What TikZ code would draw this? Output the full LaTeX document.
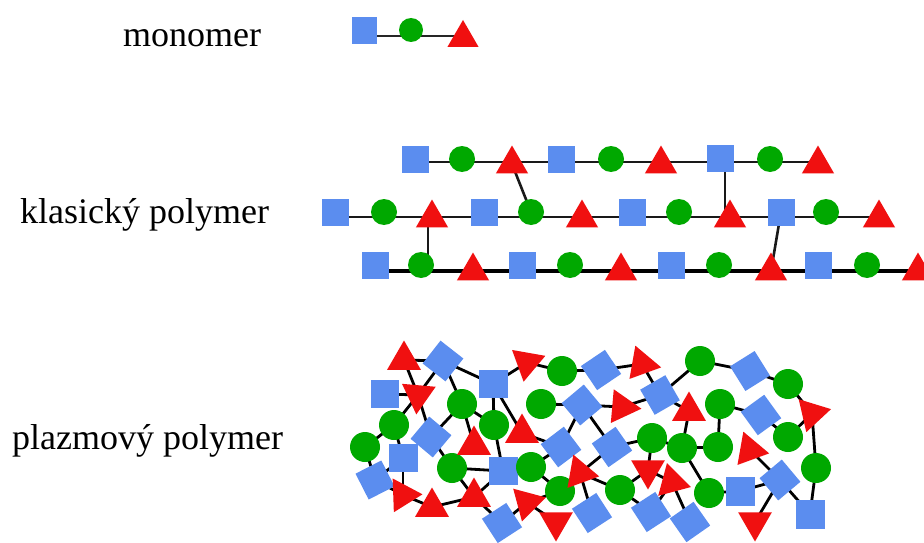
\documentclass[tikz,border=0pt]{standalone}
\usepackage{fontspec}
\setmainfont{Liberation Serif}
\usetikzlibrary{shapes.geometric,backgrounds}
\definecolor{qblue}{RGB}{91,141,239}
\definecolor{qgreen}{RGB}{0,168,0}
\definecolor{qred}{RGB}{240,16,16}
\begin{document}
\begin{tikzpicture}[x=1pt,y=-1pt,
  sqc/.style={rectangle,fill=qblue,minimum size=27pt,inner sep=0pt},
  cic/.style={circle,fill=qgreen,minimum size=26pt,inner sep=0pt},
  trc/.style={regular polygon,regular polygon sides=3,fill=qred,minimum size=37pt,inner sep=0pt},
  sqp/.style={regular polygon,regular polygon sides=4,fill=qblue,minimum size=41pt,inner sep=0pt,rotate=#1},
  sqp/.default=0,
  cip/.style={circle,fill=qgreen,minimum size=30pt,inner sep=0pt},
  trp/.style={regular polygon,regular polygon sides=3,fill=qred,minimum size=39pt,inner sep=0pt,rotate=#1},
  trp/.default=0,
  lab/.style={anchor=base west,inner sep=0pt,font=\fontsize{36pt}{40pt}\selectfont},
  bond/.style={line width=2.6pt,black!90},
  pbond/.style={line width=2.8pt,black}]
\useasboundingbox (0,0) rectangle (924,543);

% labels
\node[lab] (lmono) at (123,47) {monomer};
\node[lab] (lklas) at (20,223) {klasický polymer};
\node[lab] (lplaz) at (12,449) {plazmový polymer};

% monomer
\node[rectangle,fill=qblue,minimum width=25pt,minimum height=27pt,inner sep=0pt] (m1) at (364,31) {};
\node[circle,fill=qgreen,minimum size=24pt,inner sep=0pt] (m2) at (411,30) {};
\node[regular polygon,regular polygon sides=3,fill=qred,minimum size=36pt,inner sep=0pt] (m3) at (463,38) {};
\coordinate (my) at (0,36);

% classic polymer row 1
\node[sqc] (r1a) at (415,159) {};
\node[cic] (r1b) at (462,159) {};
\node[trc] (r1c) at (512,164) {};
\node[sqc] (r1d) at (561,159) {};
\node[cic] (r1e) at (611,159) {};
\node[trc] (r1f) at (661,164) {};
\node[sqc] (r1g) at (720,158) {};
\node[cic] (r1h) at (770,159) {};
\node[trc] (r1i) at (818,164) {};
\coordinate (y1) at (0,162);
% row 2
\node[sqc] (r2a) at (335,212) {};
\node[cic] (r2b) at (384,212) {};
\node[trc] (r2c) at (432,218) {};
\node[sqc] (r2d) at (484,212) {};
\node[cic] (r2e) at (531,212) {};
\node[trc] (r2f) at (582,218) {};
\node[sqc] (r2g) at (632,212) {};
\node[cic] (r2h) at (679,212) {};
\node[trc] (r2i) at (730,218) {};
\node[sqc] (r2j) at (781,212) {};
\node[cic] (r2k) at (826,212) {};
\node[trc] (r2l) at (879,218) {};
\coordinate (y2) at (0,217);
% row 3
\node[sqc] (r3a) at (375,265) {};
\node[cic] (r3b) at (421,265) {};
\node[trc] (r3c) at (473,271) {};
\node[sqc] (r3d) at (522,265) {};
\node[cic] (r3e) at (570,265) {};
\node[trc] (r3f) at (621,271) {};
\node[sqc] (r3g) at (671,265) {};
\node[cic] (r3h) at (719,265) {};
\node[trc] (r3i) at (771,271) {};
\node[sqc] (r3j) at (818,265) {};
\node[cic] (r3k) at (867,265) {};
\node[trc] (r3l) at (918,271) {};
\coordinate (y3) at (0,271);
\coordinate (r3end) at (930,271);

% plasma polymer: squares
\node[sqp=-38] (S1) at (443,361) {};
\node[sqp] (S2) at (385,394) {};
\node[sqp] (S3) at (493,384) {};
\node[sqp=-40] (S4) at (431,437) {};
\node[sqp] (S5) at (403,458) {};
\node[sqp=27] (S6) at (375,480) {};
\node[sqp] (S7) at (503,471) {};
\node[sqp=33] (S8) at (502,523) {};
\node[sqp=34] (S9) at (601,370) {};
\node[sqp=40] (S10) at (582,405) {};
\node[sqp=30] (S11) at (660,395) {};
\node[sqp=37] (S12) at (561,447) {};
\node[sqp=35] (S13) at (612,447) {};
\node[sqp=33] (S14) at (592,513) {};
\node[sqp=33] (S15) at (651,512) {};
\node[sqp=35] (S16) at (690,522) {};
\node[sqp=32] (S17) at (750,371) {};
\node[sqp=36] (S18) at (761,415) {};
\node[sqp=40] (S19) at (780,480) {};
\node[sqp] (S20) at (740,491) {};
\node[sqp] (S21) at (810,514) {};
% circles
\node[cip] (C1) at (462,404) {};
\node[cip] (C2) at (394,425) {};
\node[cip] (C3) at (494,425) {};
\node[cip] (C4) at (365,447) {};
\node[cip] (C5) at (452,468) {};
\node[cip] (C6) at (562,371) {};
\node[cip] (C7) at (541,404) {};
\node[cip] (C8) at (700,361) {};
\node[cip] (C9) at (788,384) {};
\node[cip] (C10) at (720,404) {};
\node[cip] (C11) at (652,438) {};
\node[cip] (C12) at (682,448) {};
\node[cip] (C13) at (718,447) {};
\node[cip] (C14) at (531,467) {};
\node[cip] (C15) at (560,491) {};
\node[cip] (C16) at (620,490) {};
\node[cip] (C17) at (709,493) {};
\node[cip] (C18) at (788,437) {};
\node[cip] (C19) at (816,468) {};
% triangles
\node[trp] (T1) at (404,360) {};
\node[trp=175] (T2) at (418,395) {};
\node[trp] (T3) at (474,445) {};
\node[trp=-88] (T4) at (403,495) {};
\node[trp] (T5) at (432,507) {};
\node[trp] (T6) at (474,497) {};
\node[trp=170] (T7) at (527,362.5) {};
\node[trp=-100] (T8) at (642,364) {};
\node[trp=-95] (T9) at (622,407) {};
\node[trp] (T10) at (522,433) {};
\node[trp] (T11) at (689,411) {};
\node[trp=163] (T12) at (812,413.5) {};
\node[trp=-100] (T13) at (580,473) {};
\node[trp=180] (T14) at (648,470) {};
\node[trp=-105] (T15) at (672,482) {};
\node[trp=165] (T16) at (527,502.5) {};
\node[trp=180] (T17) at (556,522) {};
\node[trp=-100] (T18) at (750,450) {};
\node[trp=180] (T19) at (755,522) {};

\begin{pgfonlayer}{background}
  \fill[white] (0,0) rectangle (924,543);
  % monomer bond
  \draw[line width=2.2pt,black!85] (m1 |- my) -- (m3 |- my);
  % classic backbones
  \draw[bond] (r1a |- y1) -- (r1i |- y1);
  \draw[bond] (r2a |- y2) -- (r2l |- y2);
  \draw[line width=4pt,black] (r3a |- y3) -- (r3end);
  % classic cross-links
  \draw[bond] (r1c.center) -- (r2e.center);
  \draw[bond] ([xshift=-4pt]r2c.center) -- ([xshift=-4pt]r2c.center |- r3b);
  \draw[bond] ([xshift=5pt]r1g.center) -- ([xshift=5pt]r1g.center |- r2i);
  \draw[bond] (r2j.center) -- (r3i.center);
  % plasma bonds
  \foreach \a/\b in {T1/S1,T1/T2,S1/T2,S2/T2,S1/C1,S1/S3,T2/S4,C1/S4,C1/C3,C1/T3,
      S3/C3,S3/T10,S3/T7,C2/C4,C2/T2,C2/S5,C4/S6,S6/S5,S6/T4,T4/T5,T5/T6,T6/C5,
      T6/S7,T6/S8,C5/S7,C5/S4,C3/S7,S5/T4,T7/C6,C6/S9,S9/T8,T8/S11,C7/S10,S10/T9,
      T9/S11,S10/S12,S10/S13,T10/S12,S11/C8,C8/S17,S17/C9,C9/T12,T12/C19,C10/S18,
      S18/C18,C18/T12,T11/S11,T11/C12,C10/C13,C11/C12,C12/C13,C12/C17,C11/T14,
      T14/T15,T15/S16,C17/S20,S20/S19,S19/T18,S19/S21,S19/T19,C19/S21,S13/C11,
      S13/T13,T13/C16,T13/S14,C16/T14,C15/T13,S12/C14,C14/C15,C15/T16,T16/T17,
      T16/S8,C16/S15,T15/S15,C14/S7}
    \draw[pbond] (\a.center) -- (\b.center);
\end{pgfonlayer}
\end{tikzpicture}
\end{document}
